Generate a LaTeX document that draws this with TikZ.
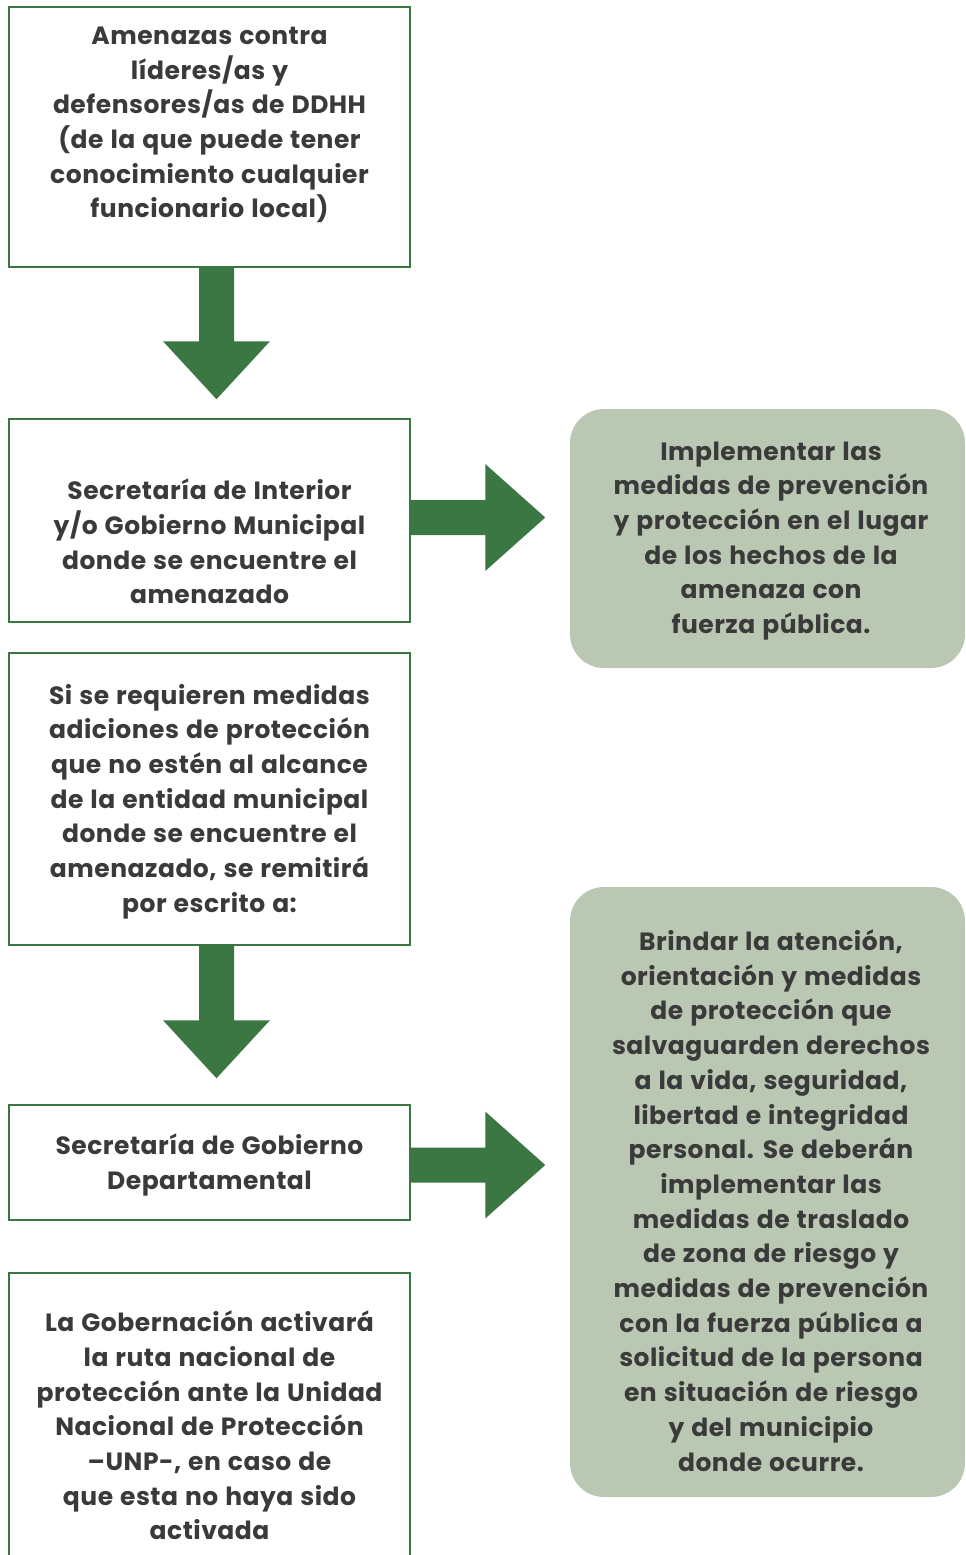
\documentclass[tikz,border=0pt]{standalone}
\usepackage{fontspec}
\setmainfont{Poppins}[LetterSpace=2,WordSpace=1.2]
\usetikzlibrary{calc}
\definecolor{rutagreen}{HTML}{3B7743}
\definecolor{rutafill}{HTML}{BAC8B3}
\definecolor{rutatext}{HTML}{3A3A3A}

\begin{document}
\begin{tikzpicture}[x=1pt,y=-1pt,
  txt/.style={align=center,text=rutatext,font=\fontsize{25}{34.7}\selectfont\bfseries},
  stepbox/.style={draw=rutagreen,line width=2.5pt,minimum width=401pt},
  actbox/.style={fill=rutafill,rounded corners=34pt,minimum width=395pt}]
\clip (0,0) rectangle (966,1555);
\node[stepbox,minimum height=260pt,label={[txt,yshift=12pt]center:Amenazas contra\\líderes/as y\\defensores/as de DDHH\\(de la que puede tener\\conocimiento cualquier\\funcionario local)}] (b1) at (209.5,137) {};
\node[stepbox,minimum height=203pt,label={[txt,yshift=-21pt]center:Secretaría de Interior\\y/o Gobierno Municipal\\donde se encuentre el\\amenazado}] (b2) at (209.5,520.5) {};
\node[stepbox,minimum height=292pt,label={[txt,yshift=-2.5pt]center:Si se requieren medidas\\adiciones de protección\\que no estén al alcance\\de la entidad municipal\\donde se encuentre el\\amenazado, se remitirá\\por escrito a:}] (b3) at (209.5,799) {};
\node[stepbox,minimum height=115pt,label={[txt,yshift=-2.5pt]center:Secretaría de Gobierno\\Departamental}] (b4) at (209.5,1162.5) {};
\node[stepbox,minimum height=327pt,label={[txt,yshift=11pt]center:La Gobernación activará\\la ruta nacional de\\protección ante la Unidad\\Nacional de Protección\\–UNP-, en caso de\\que esta no haya sido\\activada}] (b5) at (209.5,1436.5) {};
\node[actbox,minimum height=259pt,label={[txt,xshift=3.5pt,yshift=-2.5pt]center:Implementar las\\medidas de prevención\\y protección en el lugar\\de los hechos de la\\amenaza con\\fuerza pública.}] (r1) at (767.5,538.5) {};
\node[actbox,minimum height=610pt,label={[txt,xshift=3.5pt,yshift=-8.5pt]center:Brindar la atención,\\orientación y medidas\\de protección que\\salvaguarden derechos\\a la vida, seguridad,\\libertad e integridad\\personal. Se deberán\\implementar las\\medidas de traslado\\de zona de riesgo y\\medidas de prevención\\con la fuerza pública a\\solicitud de la persona\\en situación de riesgo\\y del municipio\\donde ocurre.}] (r2) at (767.5,1192) {};
\fill[rutagreen] ($(b1.south)+(-10.5,-2)$) -- ++(0,75) -- ++(-36,0) -- ++(53.5,58) -- ++(53.5,-58) -- ++(-36,0) -- ++(0,-75) -- cycle;
\fill[rutagreen] ($(b3.south)+(-10.5,-2)$) -- ++(0,76) -- ++(-36,0) -- ++(53.5,58) -- ++(53.5,-58) -- ++(-36,0) -- ++(0,-76) -- cycle;
\fill[rutagreen] ($(b2.east)+(-2,-20.5)$) -- ++(76,0) -- ++(0,-36) -- ++(60,53.5) -- ++(-60,53.5) -- ++(0,-36) -- ++(-76,0) -- cycle;
\fill[rutagreen] ($(b4.east)+(-2,-15)$) -- ++(76,0) -- ++(0,-36) -- ++(60,53.5) -- ++(-60,53.5) -- ++(0,-36) -- ++(-76,0) -- cycle;
\end{tikzpicture}
\end{document}
